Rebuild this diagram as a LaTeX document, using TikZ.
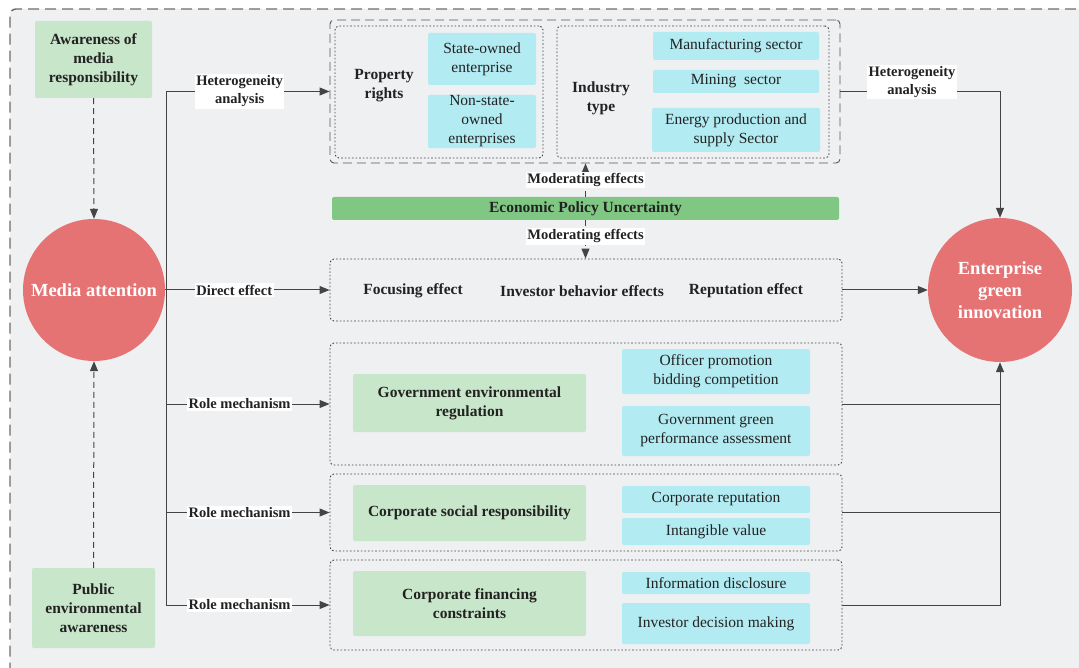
\documentclass[tikz,border=0pt]{standalone}
\usepackage{fontspec}
\setmainfont{Liberation Serif}
\usetikzlibrary{arrows.meta,positioning,calc}
\definecolor{bgc}{HTML}{EFF0F2}
\definecolor{lgreen}{HTML}{C8E6C9}
\definecolor{dgreen}{HTML}{81C784}
\definecolor{lcyan}{HTML}{B2EBF2}
\definecolor{cred}{HTML}{E57373}
\definecolor{txt}{HTML}{222222}
\definecolor{ln}{HTML}{444444}
\tikzset{
  greenbox/.style={fill=lgreen, rounded corners=2pt, align=center, text=txt, font=\bfseries\fontsize{15.5}{19}\selectfont, inner sep=1pt},
  cyanbox/.style={fill=lcyan, rounded corners=2pt, align=center, text=txt, font=\fontsize{15.5}{19}\selectfont, inner sep=1pt},
  circ/.style={circle, fill=cred, text=white, align=center, font=\bfseries\fontsize{18.5}{22}\selectfont, inner sep=0pt},
  dotbox/.style={draw=ln, dash pattern=on 1.6pt off 2pt, line width=0.9pt, rounded corners=4pt, inner sep=0pt},
  bigdash/.style={draw=ln!90, dash pattern=on 9pt off 5pt, line width=0.9pt, rounded corners=4pt, inner sep=0pt},
  lbl/.style={fill=white, text=txt, align=center, font=\bfseries\fontsize{14.5}{18}\selectfont, inner sep=1.5pt},
  plain/.style={text=txt, align=center, font=\bfseries\fontsize{15.5}{19}\selectfont},
  conn/.style={draw=ln, line width=1pt},
  arr/.style={conn, -{Triangle[length=10pt,width=8pt]}},
  dasharr/.style={draw=ln, line width=1pt, dash pattern=on 6pt off 4pt, -{Triangle[length=10pt,width=8pt]}},
}
\begin{document}
\begin{tikzpicture}[x=1pt,y=-1pt]
\useasboundingbox (0,0) rectangle (1079,668);
% outer frame
\fill[bgc, rounded corners=6pt] (10,9) rectangle (1110,700);
\draw[draw=gray!85!black, line width=1.4pt, dash pattern=on 11pt off 6pt, rounded corners=6pt] (1110,9) -- (10,9) -- (10,700);

% left nodes
\node[greenbox, minimum width=117pt, minimum height=77pt] (aware) at (93.5,59.5) {Awareness of\\ media\\ responsibility};
\node[greenbox, minimum width=123pt, minimum height=80pt] (public) at (93.5,608) {Public\\ environmental\\ awareness};
\node[circ, minimum size=142pt] (media) at (94,290) {Media attention};
\node[circ, minimum size=144pt] (egi) at (1000,290) {Enterprise\\ green\\ innovation};

% top frame
\node[bigdash, minimum width=510pt, minimum height=143pt] (top) at (585,91.5) {};
\node[dotbox, minimum width=208pt, minimum height=132pt] (prop) at (439,92) {};
\node[dotbox, minimum width=272pt, minimum height=132pt] (ind) at (693,92) {};
\node[plain] (proptxt) at (384,86) {Property\\ rights};
\node[cyanbox, minimum width=108pt, minimum height=52pt] (soe) at (482,59) {State-owned\\ enterprise};
\node[cyanbox, minimum width=108pt, minimum height=53pt] (nsoe) at (482,121.5) {Non-state-\\ owned\\ enterprises};
\node[plain] (indtxt) at (601,98) {Industry\\ type};
\node[cyanbox, minimum width=166pt, minimum height=28pt] (manu) at (736,46) {Manufacturing sector};
\node[cyanbox, minimum width=166pt, minimum height=23pt] (mine) at (736,81.5) {Mining\ \ sector};
\node[cyanbox, minimum width=168pt, minimum height=44pt] (energy) at (736,130) {Energy production and\\ supply Sector};

% EPU
\node[fill=dgreen, rounded corners=2pt, minimum width=507pt, minimum height=23pt, text=txt, font=\bfseries\fontsize{15.5}{19}\selectfont, inner sep=0pt] (epu) at (585.5,208.5) {Economic Policy Uncertainty};

% direct box
\node[dotbox, minimum width=512pt, minimum height=62pt] (direct) at (586,290) {};
\node[plain] (focus) at (413,291) {Focusing effect};
\node[plain] (invest) at (582,291) {Investor behavior effects};
\node[plain] (repu) at (746,291) {Reputation effect};

% government box
\node[dotbox, minimum width=512pt, minimum height=122pt] (gov) at (586,404) {};
\node[greenbox, minimum width=233pt, minimum height=58pt] (govg) at (469.5,403) {Government environmental\\ regulation};
\node[cyanbox, minimum width=188pt, minimum height=45pt] (officer) at (716,371.5) {Officer promotion\\ bidding competition};
\node[cyanbox, minimum width=188pt, minimum height=50pt] (ggpa) at (716,431) {Government green\\ performance assessment};

% CSR box
\node[dotbox, minimum width=512pt, minimum height=77pt] (csr) at (586,512.5) {};
\node[greenbox, minimum width=233pt, minimum height=56pt] (csrg) at (469.5,513) {Corporate social responsibility};
\node[cyanbox, minimum width=188pt, minimum height=27pt] (crep) at (716,499.5) {Corporate reputation};
\node[cyanbox, minimum width=188pt, minimum height=27pt] (intang) at (716,531.5) {Intangible value};

% financing box
\node[dotbox, minimum width=512pt, minimum height=90pt] (fin) at (586,605) {};
\node[greenbox, minimum width=233pt, minimum height=65pt] (fing) at (469.5,603.5) {Corporate financing\\ constraints};
\node[cyanbox, minimum width=188pt, minimum height=22pt] (info) at (716,583) {Information disclosure};
\node[cyanbox, minimum width=188pt, minimum height=41pt] (idm) at (716,623.5) {Investor decision making};

% dashed arrows into media attention
\draw[dasharr] (aware.south) -- (media.north);
\draw[dasharr] (public.north) -- (media.south);

% trunk
\coordinate (t1) at (166,91.5);
\coordinate (t5) at (166,605);
\draw[conn] (t1) -- (t5);
\draw[arr] (t1) -- node[lbl, pos=0.45] {Heterogeneity\\ analysis} (top.west);
\draw[arr] (media.east) -- node[lbl, pos=0.42] {Direct effect} (direct.west);
\draw[arr] (t1 |- gov.west) -- node[lbl, pos=0.45] {Role mechanism} (gov.west);
\draw[arr] (t1 |- csr.west) -- node[lbl, pos=0.45] {Role mechanism} (csr.west);
\draw[arr] (t1 |- fin.west) -- node[lbl, pos=0.45] {Role mechanism} (fin.west);

% moderating
\draw[dasharr] (epu.north) -- node[lbl, pos=0.5] {Moderating effects} (epu.north |- top.south);
\draw[dasharr] (epu.south) -- node[lbl, pos=0.42] {Moderating effects} (epu.south |- direct.north);

% right side
\draw[arr] (top.east) -| (egi.north);
\node[lbl] (het2) at (912,82) {Heterogeneity\\ analysis};
\draw[arr] (direct.east) -- (egi.west);
\draw[conn] (gov.east) -- (egi.south |- gov.east);
\draw[conn] (csr.east) -- (egi.south |- csr.east);
\draw[arr] (fin.east) -| (egi.south);
\end{tikzpicture}
\end{document}
